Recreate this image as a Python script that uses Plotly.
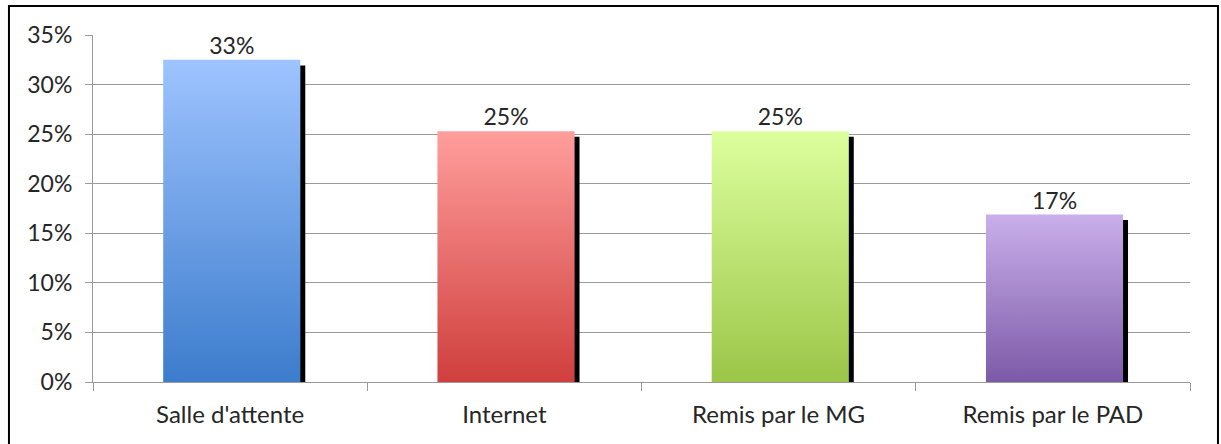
import plotly.graph_objects as go

categories = ["Salle d'attente", "Internet", "Remis par le MG", "Remis par le PAD"]
values = [0.325, 0.253, 0.253, 0.169]
labels = ["33%", "25%", "25%", "17%"]
top_colors = ["#9EC4FF", "#FF9E9C", "#DDFF9E", "#C9AFEB"]
bottom_colors = ["#3C7CCC", "#CF3F3D", "#9BC648", "#7D5AA7"]
y_ticks = [0, 0.05, 0.10, 0.15, 0.20, 0.25, 0.30, 0.35]

FONT = "Lato"
TEXT_COLOR = "#262626"
GRID = "#9a9a9a"
half = 0.25
shift = 0.006
shadow_dx = 0.018
shadow_dy = 0.0057

xs = list(range(len(categories)))

fig = go.Figure()

# drop shadows
fig.add_trace(go.Bar(
    x=[x + shift + shadow_dx for x in xs],
    y=[v - shadow_dy for v in values],
    width=2 * half,
    marker=dict(color="black", line=dict(width=0)),
    hoverinfo="skip",
    showlegend=False,
))

# gradient bars
for x, v, c_top, c_bot in zip(xs, values, top_colors, bottom_colors):
    xc = x + shift
    fig.add_trace(go.Scatter(
        x=[xc - half, xc + half, xc + half, xc - half, xc - half],
        y=[0, 0, v, v, 0],
        mode="lines",
        line=dict(width=0),
        fill="toself",
        fillgradient=dict(type="vertical", colorscale=[[0, c_bot], [1, c_top]]),
        hoverinfo="skip",
        showlegend=False,
    ))

# value labels
fig.add_trace(go.Scatter(
    x=[x + shift for x in xs],
    y=values,
    mode="text",
    text=labels,
    textposition="top center",
    textfont=dict(family=FONT, size=23, color=TEXT_COLOR),
    hoverinfo="skip",
    showlegend=False,
))

fig.update_layout(
    width=1221,
    height=444,
    margin=dict(l=93, r=31, t=35, b=62),
    paper_bgcolor="white",
    plot_bgcolor="white",
    font=dict(family=FONT, size=23, color=TEXT_COLOR),
    xaxis=dict(
        range=[-0.5, 3.5],
        tickmode="array",
        tickvals=xs,
        ticktext=categories,
        ticks="outside",
        ticklen=11,
        tickcolor="rgba(0,0,0,0)",
        showgrid=False,
        zeroline=False,
        showline=True,
        linecolor=GRID,
        linewidth=1,
        minor=dict(tickmode="array", tickvals=[-0.5, 0.5, 1.5, 2.5, 3.5],
                   ticks="outside", ticklen=8, tickcolor=GRID, tickwidth=1, showgrid=False),
        tickfont=dict(family=FONT, size=24, color=TEXT_COLOR),
    ),
    yaxis=dict(
        range=[0, 0.35],
        tickmode="array",
        tickvals=y_ticks,
        tickformat=".0%",
        ticks="outside",
        ticklen=7,
        tickcolor=GRID,
        showgrid=True,
        gridcolor=GRID,
        gridwidth=1,
        zeroline=False,
        showline=True,
        linecolor=GRID,
        linewidth=1,
        ticklabelstandoff=8,
        tickfont=dict(family=FONT, size=23, color=TEXT_COLOR),
    ),
    shapes=[dict(
        type="rect", xref="paper", yref="paper",
        x0=-0.0766, x1=1.0255, y0=-0.2, y1=1.0836,
        line=dict(color="black", width=2), fillcolor="rgba(0,0,0,0)",
        layer="above",
    )],
)

fig.write_html("out.html", config={"displayModeBar": False},
               post_script="document.body.style.margin='0';")
